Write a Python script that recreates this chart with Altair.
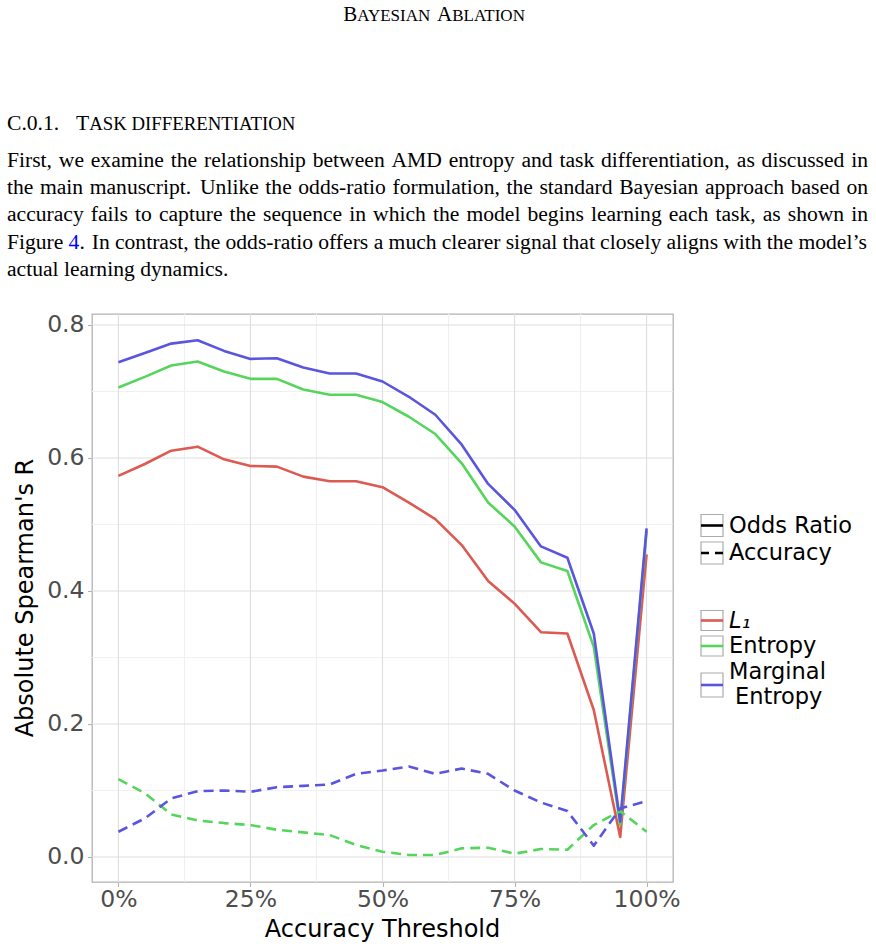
import altair as alt
import pandas as pd

# ---------------------------------------------------------------- data
thresholds = list(range(0, 101, 5))  # accuracy threshold, %

# odds-ratio formulation (solid)
l1_odds_ratio = [0.573, 0.591, 0.611, 0.617, 0.598, 0.588, 0.587, 0.572, 0.565, 0.565, 0.556,
                 0.533, 0.508, 0.469, 0.415, 0.381, 0.338, 0.336, 0.221, 0.030, 0.455]
entropy_odds_ratio = [0.706, 0.722, 0.739, 0.745, 0.730, 0.719, 0.719, 0.703, 0.695, 0.695, 0.684,
                      0.662, 0.636, 0.592, 0.533, 0.497, 0.443, 0.430, 0.316, 0.048, 0.490]
marginal_entropy_odds_ratio = [0.744, 0.758, 0.772, 0.777, 0.761, 0.749, 0.750, 0.736, 0.727, 0.727, 0.715,
                               0.692, 0.665, 0.620, 0.561, 0.522, 0.467, 0.450, 0.336, 0.053, 0.494]

# accuracy formulation (dashed)
entropy_accuracy = [0.117, 0.096, 0.064, 0.055, 0.051, 0.048, 0.041, 0.037, 0.033, 0.018, 0.008,
                    0.003, 0.003, 0.013, 0.014, 0.005, 0.012, 0.011, 0.048, 0.069, 0.038]
marginal_entropy_accuracy = [0.038, 0.058, 0.088, 0.099, 0.100, 0.098, 0.105, 0.107, 0.109, 0.125, 0.130,
                             0.136, 0.125, 0.133, 0.125, 0.100, 0.082, 0.069, 0.017, 0.073, 0.084]

x_ticks = [0, 25, 50, 75, 100]
x_minor = [12.5, 37.5, 62.5, 87.5]
y_ticks = [0.0, 0.2, 0.4, 0.6, 0.8]
y_minor = [0.1, 0.3, 0.5, 0.7]

RED, GREEN, BLUE = "#DC5A51", "#55D55C", "#5A55DF"

# small-caps pieces: (text, "big" | "small"); None marks an inter-word space
header_pieces = [("B", "big"), ("AYESIAN", "small"), (None, "big"), ("A", "big"), ("BLATION", "small")]
section_number = "C.0.1."
section_pieces = [("T", "big"), ("ASK", "small"), (None, "small"), ("DIFFERENTIATION", "small")]
paragraph_lines = [
    "First, we examine the relationship between AMD entropy and task differentiation, as discussed in",
    "the main manuscript. Unlike the odds-ratio formulation, the standard Bayesian approach based on",
    "accuracy fails to capture the sequence in which the model begins learning each task, as shown in",
    "Figure 4. In contrast, the odds-ratio offers a much clearer signal that closely aligns with the model’s",
    "actual learning dynamics.",
]
link_token = "4"

# ---------------------------------------------------------------- page geometry
PAGE_W, PAGE_H = 876, 950
PLOT_LEFT, PLOT_TOP, PLOT_RIGHT, PLOT_BOTTOM = 92, 314, 673, 882
PLOT_W = PLOT_RIGHT - PLOT_LEFT
PLOT_H = PLOT_BOTTOM - PLOT_TOP

SERIF = "Liberation Serif"
SANS = "DejaVu Sans"

# Times advance widths (1/1000 em) used to lay out the justified paragraph
TIMES = {' ': 250, ',': 250, '.': 250, '-': 333, '’': 333, "'": 180}
TIMES.update({d: 500 for d in "0123456789"})
TIMES.update(dict(zip("ABCDEFGHIJKLMNOPQRSTUVWXYZ",
                      [722, 667, 667, 722, 611, 556, 722, 722, 333, 389, 722, 611, 889,
                       722, 722, 556, 722, 667, 556, 611, 722, 722, 944, 722, 722, 611])))
TIMES.update(dict(zip("abcdefghijklmnopqrstuvwxyz",
                      [444, 500, 444, 500, 444, 333, 500, 500, 278, 278, 500, 278, 778,
                       500, 500, 500, 500, 333, 389, 278, 500, 500, 722, 500, 500, 444])))


def tw(s, size):
    return sum(TIMES.get(c, 500) for c in s) * size / 1000.0


def small_caps(pieces, sizes, x, y, out):
    for t, k in pieces:
        if t is None:
            x += tw(" ", sizes[k])
            continue
        out.append(dict(x=x, y=y, text=t, size=sizes[k], color="black"))
        x += tw(t, sizes[k])


# ---------------------------------------------------------------- text records
BODY = 21.6
serif_records = []

# running head in small caps, centred
head_sizes = {"big": 21.0, "small": 17.0}
head_total = sum(tw(t if t else " ", head_sizes[k]) for t, k in header_pieces)
small_caps(header_pieces, head_sizes, 435 - head_total / 2, 21, serif_records)

# section heading
serif_records.append(dict(x=7, y=130, text=section_number, size=BODY, color="black"))
small_caps(section_pieces, {"big": BODY, "small": 18.8}, 76, 130, serif_records)

# justified paragraph
LEFT_EDGE, RIGHT_EDGE = 7, 868
first_baseline, leading = 167, 27.2
for i, line in enumerate(paragraph_lines):
    words = line.split(" ")
    widths = [tw(w, BODY) for w in words]
    base_y = first_baseline + i * leading
    last = i == len(paragraph_lines) - 1
    if last:
        gaps = [tw(" ", BODY)] * (len(words) - 1)
    else:
        weights = [1.35 if w.endswith(".") else 1.0 for w in words[:-1]]
        unit = (RIGHT_EDGE - LEFT_EDGE - sum(widths)) / sum(weights)
        gaps = [wt * unit for wt in weights]
    x = LEFT_EDGE
    for j, w in enumerate(words):
        if w == link_token + ".":
            serif_records.append(dict(x=x, y=base_y, text=link_token, size=BODY, color="#0000FF"))
            serif_records.append(dict(x=x + tw(link_token, BODY), y=base_y, text=".", size=BODY, color="black"))
        else:
            serif_records.append(dict(x=x, y=base_y, text=w, size=BODY, color="black"))
        if j < len(gaps):
            x += widths[j] + gaps[j]


def pixel_text(records, font, align="left", baseline="alphabetic", style="normal", angle=0, **extra):
    df = pd.DataFrame(records)
    df["px"] = df["x"] - PLOT_LEFT
    df["py"] = df["y"] - PLOT_TOP
    return alt.Chart(df).mark_text(
        font=font, align=align, baseline=baseline, fontStyle=style, angle=angle, **extra
    ).encode(
        x=alt.X("px:Q", scale=None, axis=None),
        y=alt.Y("py:Q", scale=None, axis=None),
        text=alt.Text("text:N"),
        size=alt.Size("size:Q", scale=None, legend=None),
        color=alt.Color("color:N", scale=None, legend=None),
    )


# ---------------------------------------------------------------- plot layers
xs = alt.Scale(domain=[-5, 105], nice=False, zero=False)
ys = alt.Scale(domain=[-0.0376, 0.8165], nice=False, zero=False)

x_axis = alt.Axis(values=x_ticks, labelExpr="datum.value + '%'", title=None, grid=False,
                  domain=False, tickColor="#B3B3B3", tickSize=4.5, tickWidth=1.1,
                  labelFont=SANS, labelFontSize=23.5, labelColor="#4D4D4D",
                  labelPadding=0.5, labelFlush=False, labelOverlap=False)
y_axis = alt.Axis(values=y_ticks, format=".1f", title=None, grid=False,
                  domain=False, tickColor="#B3B3B3", tickSize=4.5, tickWidth=1.1,
                  labelFont=SANS, labelFontSize=23.5, labelColor="#4D4D4D",
                  labelPadding=3.5, labelFlush=False, labelOverlap=False)


def grid(values, channel, color, width):
    df = pd.DataFrame({"v": values})
    enc = {channel: alt.X("v:Q", scale=xs, axis=None) if channel == "x"
           else alt.Y("v:Q", scale=ys, axis=None)}
    return alt.Chart(df).mark_rule(color=color, strokeWidth=width).encode(**enc)


def series(values, color, dashed=False, axes=False):
    df = pd.DataFrame({"threshold": thresholds, "r": values})
    props = dict(color=color, strokeWidth=2.6, strokeJoin="round", strokeCap="butt")
    if dashed:
        props["strokeDash"] = [10, 6]
    return alt.Chart(df).mark_line(**props).encode(
        x=alt.X("threshold:Q", scale=xs, axis=x_axis if axes else None),
        y=alt.Y("r:Q", scale=ys, axis=y_axis if axes else None),
    )


layers = [
    grid(y_minor, "y", "#F0F0F0", 1.1),
    grid(x_minor, "x", "#F0F0F0", 1.1),
    grid(y_ticks, "y", "#DEDEDE", 1.1),
    grid(x_ticks, "x", "#DEDEDE", 1.1),
    series(l1_odds_ratio, RED, axes=True),
    series(entropy_odds_ratio, GREEN),
    series(marginal_entropy_odds_ratio, BLUE),
    series(entropy_accuracy, GREEN, dashed=True),
    series(marginal_entropy_accuracy, BLUE, dashed=True),
]

# ---------------------------------------------------------------- legend
KEY_X1, KEY_X2 = 701, 723
legend_rows = [
    # centre y, half height, colour, dashed
    (525.5, 11, "black", False),
    (553.0, 11, "black", True),
    (620.5, 10, RED, False),
    (646.0, 10, GREEN, False),
    (685.0, 12, BLUE, False),
]
box_df = pd.DataFrame([dict(x1=KEY_X1 - PLOT_LEFT, x2=KEY_X2 - PLOT_LEFT,
                            y1=cy - hh - PLOT_TOP, y2=cy + hh - PLOT_TOP)
                       for cy, hh, _, _ in legend_rows])
layers.append(alt.Chart(box_df).mark_rect(fill="white", stroke="#ABABAB", strokeWidth=1.2).encode(
    x=alt.X("x1:Q", scale=None, axis=None), x2="x2:Q",
    y=alt.Y("y1:Q", scale=None, axis=None), y2="y2:Q"))

for dashed in (False, True):
    rows = [r for r in legend_rows if r[3] == dashed]
    kdf = pd.DataFrame([dict(x1=KEY_X1 - PLOT_LEFT, x2=KEY_X2 - PLOT_LEFT, y=cy - PLOT_TOP, c=col)
                        for cy, _, col, _ in rows])
    props = dict(strokeWidth=2.6, strokeCap="butt")
    if dashed:
        props["strokeDash"] = [8, 6]
    layers.append(alt.Chart(kdf).mark_rule(**props).encode(
        x=alt.X("x1:Q", scale=None, axis=None), x2="x2:Q",
        y=alt.Y("y:Q", scale=None, axis=None),
        color=alt.Color("c:N", scale=None, legend=None)))

LEG = 22.5
legend_text = [
    dict(x=729, y=525.5, text="Odds Ratio", size=LEG, color="black"),
    dict(x=729, y=553.0, text="Accuracy", size=LEG, color="black"),
    dict(x=729, y=646.0, text="Entropy", size=LEG, color="black"),
    dict(x=729, y=671.5, text="Marginal", size=LEG, color="black"),
    dict(x=735, y=697.0, text="Entropy", size=LEG, color="black"),
]
layers.append(pixel_text(legend_text, SANS, baseline="middle"))
layers.append(pixel_text([dict(x=729, y=620.5, text="L\u2081", size=LEG, color="black")],
                         SANS, baseline="middle", style="italic"))

# ---------------------------------------------------------------- axis titles and page text
layers.append(pixel_text([dict(x=(PLOT_LEFT + PLOT_RIGHT) / 2, y=937, text="Accuracy Threshold",
                               size=24, color="black")], SANS, align="center"))
layers.append(pixel_text([dict(x=26, y=(PLOT_TOP + PLOT_BOTTOM) / 2, text="Absolute Spearman's R",
                               size=24, color="black")], SANS, align="center", baseline="middle",
                         angle=270))
layers.append(pixel_text(serif_records, SERIF))

chart = alt.layer(*layers).properties(
    width=PLOT_W,
    height=PLOT_H,
    padding={"left": PLOT_LEFT, "top": PLOT_TOP,
             "right": PAGE_W - PLOT_RIGHT, "bottom": PAGE_H - PLOT_BOTTOM},
    autosize=alt.AutoSizeParams(type="none"),
    background="white",
).resolve_scale(
    x="independent", y="independent"
).configure_view(
    stroke="#B3B3B3", strokeWidth=1.3
)

chart.save("out.html", embed_options={"renderer": "svg", "actions": False})
